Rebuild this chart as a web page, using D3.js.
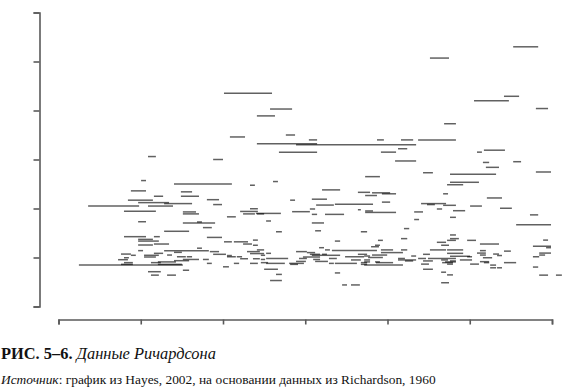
<!DOCTYPE html>
<html><head><meta charset="utf-8">
<script src="https://cdn.jsdelivr.net/npm/d3@7"></script>
<style>
html,body{margin:0;padding:0;background:#fff;}
svg{display:block;}
</style></head>
<body>
<svg id="chart" width="574" height="388"></svg>
<script>
// Ticks (no labels in the original)
const xTicks = [1800, 1825, 1850, 1875, 1900, 1925, 1950];
const yTicks = [2, 3, 4, 5, 6, 7, 8];

// Each war: [start year, end year, magnitude (log10 deaths)]
const majorWars = [
  [1938.2,1945.8,7.30],[1912.9,1918.7,7.07],[1850.3,1864.9,6.35],[1935.4,1940.0,6.29],
  [1926.3,1936.9,6.20],[1945.1,1948.8,6.04],[1864.3,1871.0,6.03],[1860.3,1865.8,5.89],
  [1917.2,1920.8,5.73],[1852.1,1856.7,5.46],[1869.1,1871.9,5.50],[1876.1,1878.6,5.40],
  [1896.8,1898.9,5.40],[1904.1,1907.8,5.40],[1909.3,1920.8,5.40],[1860.3,1878.6,5.32],
  [1872.2,1908.7,5.30],[1903.2,1906.0,5.22],[1929.3,1935.7,5.19],[1867.0,1878.6,5.15],
  [1898.0,1902.6,5.15],[1927.2,1928.7,5.15],[1827.2,1829.6,5.06],[1847.0,1850.0,5.00],
  [1902.3,1908.7,4.97],[1938.2,1940.6,4.955],[1929.0,1930.9,4.94],[1929.9,1933.9,4.84],
  [1945.1,1949.7,4.745],[1910.8,1913.8,4.73],[1919.0,1933.0,4.70],[1893.2,1897.7,4.65],
  [1825.1,1826.6,4.57],[1865.2,1866.7,4.55],[1919.0,1927.8,4.535],[1835.1,1852.7,4.50],
  [1918.1,1923.0,4.485],[1858.2,1859.7,4.475]
];

const midWars = [
  [1880.1,1885.6,4.38],[1822.0,1826.6,4.36],[1837.2,1840.6,4.34],[1891.0,1894.7,4.33],
  [1895.3,1900.8,4.32],[1916.9,1918.4,4.30],[1898.3,1902.6,4.30],[1893.2,1896.8,4.265],
  [1829.0,1831.8,4.25],[1837.2,1842.7,4.25],[1930.2,1934.8,4.215],[1877.0,1881.6,4.19],
  [1821.1,1828.7,4.17],[1870.4,1871.9,4.17],[1845.1,1848.8,4.18],[1898.3,1900.8,4.13],
  [1824.2,1833.6,4.12],[1832.1,1840.6,4.10],[1910.2,1917.8,4.10],[1884.0,1895.6,4.085],
  [1847.0,1849.7,4.08],[1912.0,1914.4,4.08],[1878.3,1883.7,4.07],[1916.9,1920.8,4.065],
  [1809.0,1824.5,4.05],[1827.2,1834.8,4.05],[1925.1,1928.7,4.05],[1858.2,1860.6,3.995],
  [1876.4,1878.0,3.99],[1915.0,1916.6,3.99],[1934.2,1937.8,4.005],[1891.0,1891.9,3.975],
  [1919.9,1923.6,3.955],[1893.2,1895.6,3.95],[1819.9,1829.6,3.945],[1855.2,1860.6,3.94],
  [1871.0,1876.4,3.935],[1908.1,1910.8,3.93],[1837.8,1841.8,3.93],[1893.2,1902.6,3.92],
  [1860.0,1867.6,3.90],[1837.8,1842.7,3.89],[1856.1,1859.7,3.89],[1860.3,1862.5,3.89],
  [1877.0,1878.6,3.88],[1881.0,1886.8,3.88],[1943.3,1945.8,3.87],[1851.2,1853.9,3.83],
  [1919.0,1920.8,3.82],[1908.1,1909.6,3.775],[1863.1,1864.6,3.745],[1824.2,1826.6,3.73],
  [1842.1,1843.6,3.725],[1837.8,1847.6,3.705],[1877.0,1880.7,3.705],[1939.1,1949.7,3.67],
  [1843.9,1846.6,3.61],[1905.0,1906.6,3.59],[1878.0,1879.8,3.545],[1832.1,1839.7,3.535],
  [1866.1,1867.9,3.525],[1891.9,1893.8,3.525]
];

const minorWars = [
  [1919.0,1920.8,3.46],[1819.9,1826.6,3.425],[1829.0,1830.8,3.425],[1845.1,1849.7,3.41],
  [1904.1,1906.0,3.385],[1919.0,1921.7,3.385],[1824.2,1828.7,3.37],[1859.1,1860.6,3.355],
  [1947.3,1948.8,3.355],[1897.1,1898.6,3.35],[1918.1,1920.8,3.35],[1924.2,1926.9,3.35],
  [1884.0,1885.6,3.335],[1824.2,1830.5,3.335],[1850.3,1852.7,3.32],[1853.3,1857.6,3.32],
  [1915.0,1917.8,3.31],[1829.0,1833.6,3.275],[1856.1,1858.8,3.275],[1928.1,1933.9,3.275],
  [1824.2,1828.7,3.255],[1859.1,1860.6,3.25],[1916.3,1918.7,3.25],[1896.2,1897.7,3.25],
  [1944.2,1949.7,3.23],[1895.0,1897.4,3.22],[1948.2,1949.7,3.20],[1879.2,1880.7,3.20],
  [1842.1,1843.6,3.19],[1860.3,1862.5,3.155],[1881.0,1882.5,3.155],[1898.0,1901.7,3.155],
  [1904.1,1906.0,3.155],[1912.9,1917.8,3.155],[1918.1,1923.0,3.155],[1883.1,1896.8,3.145],
  [1824.2,1825.7,3.14],[1832.1,1845.7,3.14],[1928.1,1929.9,3.14],[1846.0,1848.8,3.12],
  [1857.3,1861.2,3.12],[1872.2,1875.5,3.12],[1935.4,1937.5,3.13],[1835.1,1837.5,3.105],
  [1875.5,1878.0,3.10],[1898.0,1904.7,3.10],[1927.2,1929.9,3.09],[1946.1,1949.7,3.09],
  [1829.0,1831.8,3.085],[1863.1,1864.6,3.085],[1918.1,1923.0,3.085],[1858.2,1862.5,3.08],
  [1819.0,1822.0,3.07],[1932.1,1933.9,3.07],[1847.0,1850.9,3.065],[1876.4,1879.5,3.065],
  [1880.1,1881.6,3.065],[1891.0,1893.8,3.065],[1910.8,1912.9,3.065],[1833.0,1834.5,3.05],
  [1895.3,1899.9,3.05],[1928.1,1929.9,3.05],[1946.1,1947.9,3.05],[1822.0,1823.5,3.045],
  [1826.0,1830.5,3.045],[1861.5,1862.8,3.045],[1877.0,1885.6,3.045],[1851.2,1852.7,3.04],
  [1933.3,1934.8,3.04],[1892.9,1894.7,3.03],[1907.2,1908.7,3.03],[1919.0,1925.1,3.025],
  [1836.0,1838.7,3.015],[1839.0,1840.6,3.015],[1851.2,1853.9,3.015],[1854.2,1855.8,3.015],
  [1887.1,1892.9,3.015],[1924.2,1925.7,3.015],[1944.2,1946.1,3.015],[1826.0,1829.6,3.01],
  [1874.3,1879.5,3.01],[1894.1,1898.6,3.00],[1819.9,1821.4,2.995],[1929.0,1931.8,2.995],
  [1863.1,1869.8,2.98],[1873.1,1875.5,2.98],[1882.2,1884.6,2.98],[1903.2,1905.3,2.98],
  [1909.3,1911.7,2.98],[1912.3,1920.8,2.98],[1855.2,1857.6,2.975],[1859.1,1861.2,2.975],
  [1837.8,1842.7,2.96],[1843.9,1845.7,2.96],[1861.5,1862.8,2.96],[1877.4,1879.5,2.96],
  [1818.1,1821.1,2.955],[1888.9,1891.9,2.95],[1892.9,1894.7,2.95],[1903.2,1908.7,2.95],
  [1916.3,1918.4,2.95],[1922.0,1925.7,2.95],[1835.1,1839.7,2.935],[1905.3,1907.8,2.93],
  [1910.8,1913.8,2.93],[1919.0,1920.8,2.93],[1872.2,1875.2,2.92],[1878.0,1881.9,2.92],
  [1928.1,1930.9,2.915],[1830.2,1835.7,2.91],[1892.9,1894.7,2.91],[1896.2,1897.7,2.91],
  [1917.5,1920.8,2.91],[1828.1,1831.1,2.895],[1819.9,1822.6,2.895],[1861.5,1863.7,2.895],
  [1891.9,1893.8,2.895],[1896.5,1901.7,2.895],[1916.6,1919.9,2.895],[1929.3,1930.9,2.895],
  [1935.4,1939.1,2.895],[1845.1,1846.6,2.88],[1853.3,1854.9,2.88],[1858.2,1860.6,2.88],
  [1863.1,1868.8,2.88],[1870.1,1874.6,2.88],[1882.2,1883.7,2.88],[1884.0,1890.7,2.88],
  [1910.2,1912.6,2.865],[1918.1,1919.9,2.865],[1925.1,1927.8,2.865],[1819.0,1822.6,2.86],
  [1830.2,1837.5,2.86],[1870.4,1872.8,2.86],[1891.9,1893.8,2.86],[1806.2,1837.8,2.845],
  [1892.9,1904.7,2.845],[1931.2,1933.0,2.845],[1850.0,1851.8,2.81],[1944.2,1945.8,2.805],
  [1931.2,1933.0,2.79],[1933.3,1934.8,2.79],[1862.5,1866.7,2.76],[1910.8,1913.8,2.76],
  [1837.8,1839.7,2.74],[1827.2,1831.1,2.71],[1916.3,1917.8,2.70],[1884.0,1885.6,2.685],
  [1866.1,1867.9,2.655],[1918.1,1919.9,2.645],[1828.1,1830.5,2.64],[1833.0,1835.7,2.64],
  [1946.1,1948.8,2.64],[1951.2,1953.0,2.64],[1864.3,1867.9,2.53],[1916.3,1918.7,2.485],
  [1886.2,1887.7,2.44],[1888.9,1891.6,2.44]
];

const titleBold = "РИС. 5–6.";
const titleItalic = " Данные Ричардсона";
const sourceItalic = "Источник";
const sourceRest = ": график из Hayes, 2002, на основании данных из Richardson, 1960";

const svg = d3.select("#chart");
const x = d3.scaleLinear().domain([1800, 1950]).range([58.5, 552]);
const y = d3.scaleLinear().domain([2, 8]).range([306.5, 12.5]);

const axisColor = "#5a5a5a";

// Y axis
const gy = svg.append("g").attr("transform", "translate(39.5,0)")
  .call(d3.axisLeft(y).tickValues(yTicks).tickSize(6).tickSizeOuter(6).tickFormat(""));
gy.selectAll("path,line").attr("stroke", axisColor).attr("stroke-width", 1.6);

// X axis
const gx = svg.append("g").attr("transform", "translate(0,319.5)")
  .call(d3.axisBottom(x).tickValues(xTicks).tickSize(5).tickSizeOuter(5).tickFormat(""));
gx.selectAll("path,line").attr("stroke", axisColor).attr("stroke-width", 1.6);

// War segments
const allWars = majorWars.concat(midWars, minorWars);
svg.append("g").selectAll("line").data(allWars).join("line")
  .attr("x1", d => x(d[0]))
  .attr("x2", d => x(d[1]))
  .attr("y1", d => y(d[2]))
  .attr("y2", d => y(d[2]))
  .attr("stroke", "#000")
  .attr("stroke-opacity", 0.62)
  .attr("stroke-width", 1.5);

// Caption
const t = svg.append("text").attr("x", 1).attr("y", 359)
  .attr("font-family", "'Liberation Serif', 'DejaVu Serif', serif")
  .attr("font-size", 16.4).attr("fill", "#111");
t.append("tspan").attr("font-weight", "bold").text(titleBold);
t.append("tspan").attr("font-style", "italic").text(titleItalic);

const s = svg.append("text").attr("x", 1).attr("y", 384)
  .attr("font-family", "'Liberation Serif', 'DejaVu Serif', serif")
  .attr("font-size", 13.4).attr("fill", "#111");
s.append("tspan").attr("font-style", "italic").text(sourceItalic);
s.append("tspan").text(sourceRest);
</script>
</body></html>
